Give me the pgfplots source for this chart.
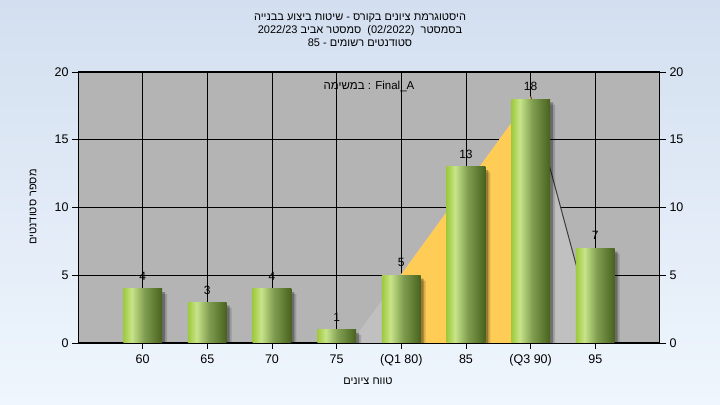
\documentclass[border=0pt]{standalone}
\usepackage{fontspec}
\setmainfont{Liberation Sans}
\newfontfamily\hebfont[Script=Hebrew]{Liberation Sans}
\usepackage{pgfplots}
\usepackage{pgfplotstable}
\pgfplotsset{compat=1.18}
\TeXXeTstate=1

\definecolor{bgtop}{RGB}{211,223,240}
\definecolor{bgbot}{RGB}{239,246,253}
\definecolor{plotgray}{RGB}{180,180,180}
\definecolor{lightarea}{RGB}{192,192,192}
\definecolor{orangearea}{RGB}{255,204,85}
\definecolor{darkline}{RGB}{60,60,60}
\definecolor{gA}{RGB}{158,202,60}
\definecolor{gB}{RGB}{200,228,138}
\definecolor{gC}{RGB}{128,158,80}
\definecolor{gD}{RGB}{72,98,30}
\pgfdeclarehorizontalshading{barshade}{100bp}{color(0bp)=(gA); color(25bp)=(gA); color(36bp)=(gB); color(52bp)=(gC); color(75bp)=(gD); color(100bp)=(gD)}

\pgfplotstableread{
x y
0 4
1 3
2 4
3 1
4 5
5 13
6 18
7 7
}\grades

\newcommand{\fs}[1]{\fontsize{#1bp}{#1bp}\selectfont}

\begin{document}
\begin{tikzpicture}
\shade[top color=bgtop, bottom color=bgbot] (0bp,0bp) rectangle (720bp,405bp);

% titles
\node[anchor=base, font=\fs{11}] at (360bp,384bp) {\hebfont\beginR היסטוגרמת ציונים בקורס - שיטות ביצוע בבנייה\endR};
\node[anchor=base, font=\fs{11}] at (360bp,371bp) {\beginR{\hebfont בסמסטר}\ \ (02/2022)\ \ {\hebfont סמסטר אביב} 2022/23\endR};
\node[anchor=base, font=\fs{11}] at (360bp,358bp) {\beginR{\hebfont סטודנטים רשומים} - 85\endR};

\begin{axis}[
  at={(78bp,62bp)}, anchor=south west,
  scale only axis, width=582bp, height=271bp,
  xmin=-1, xmax=8, ymin=0, ymax=20,
  xtick={0,...,7},
  xticklabels={60,65,70,75,(Q1 80),85,(Q3 90),95},
  ytick={0,5,10,15,20},
  tick align=outside,
  xtick pos=bottom,
  major tick length=6bp,
  grid=major,
  grid style={black, line width=0.9bp},
  axis line style={black, line width=1bp},
  tick style={black, line width=0.9bp},
  axis background/.style={fill=plotgray},
  ticklabel style={font=\fs{12.5}, text=black},
  xticklabel style={yshift=-2bp},
  /pgf/number format/assume math mode=true,
]
% background area (light gray and orange band between Q1 and Q3)
\addplot[fill=lightarea, draw=none] coordinates {(3.22,0) (6,18.2) (7.03,0)} \closedcycle;
\addplot[fill=orangearea, draw=none] coordinates {(4,0) (4,5.07) (6,18.2) (6,0)} \closedcycle;
\addplot[draw=darkline, line width=1bp] coordinates {(6,18.2) (7.03,0)};
% bar shadows
\addplot[ybar, bar width=0.6, bar shift=5bp, fill=black, fill opacity=0.15, draw=none, y filter/.expression={y-0.4}] table[x=x,y=y]{\grades};
\addplot[ybar, bar width=0.6, bar shift=3bp, fill=black, fill opacity=0.3, draw=none, y filter/.expression={y-0.25}] table[x=x,y=y]{\grades};
% bars, one plot per bar so that each bar gets its own shading
\pgfplotsinvokeforeach{0,...,7}{
\addplot[ybar, bar width=0.6, bar shift=0pt, draw=none, shade, shading=barshade,
  x filter/.expression={abs(x-#1)<0.1 ? x : nan},
  nodes near coords,
  every node near coord/.append style={font=\fs{12}, text=black, anchor=south, inner sep=0pt, yshift=8bp}
] table[x=x,y=y]{\grades};
}
\node[font=\fs{11.5}, text=black] at (axis description cs:0.5,0.948) {{\hebfont\beginR במשימה\endR} : Final\_A};
\end{axis}

\begin{axis}[
  at={(78bp,62bp)}, anchor=south west,
  scale only axis, width=582bp, height=271bp,
  xmin=-1, xmax=8, ymin=0, ymax=20,
  axis x line=none, axis y line*=right,
  ytick={0,5,10,15,20},
  tick align=outside,
  major tick length=6bp,
  axis line style={black, line width=1bp},
  tick style={black, line width=0.9bp},
  ticklabel style={font=\fs{12.5}, text=black},
  /pgf/number format/assume math mode=true,
]
\addplot[draw=none] coordinates {(0,0)};
\end{axis}

\node[font=\fs{11}, rotate=90] at (33bp,198bp) {\hebfont\beginR מספר סטודנטים\endR};
\node[font=\fs{11}] at (368bp,24bp) {\hebfont\beginR טווח ציונים\endR};
\end{tikzpicture}
\end{document}
